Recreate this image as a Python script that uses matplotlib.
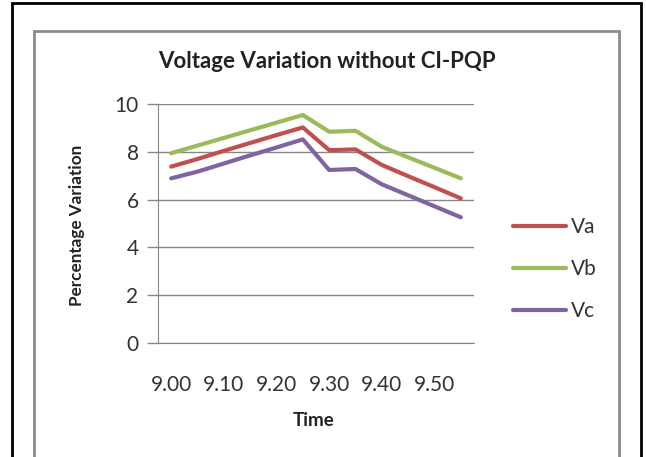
import matplotlib
matplotlib.use("Agg")
import matplotlib.pyplot as plt
from matplotlib.patches import Rectangle

times = ["9.00", "9.05", "9.10", "9.15", "9.20", "9.25", "9.30", "9.35", "9.40", "9.45", "9.50", "9.55"]
va = [7.38, 7.70, 8.04, 8.37, 8.70, 9.02, 8.07, 8.10, 7.45, 6.98, 6.52, 6.05]
vb = [7.94, 8.26, 8.58, 8.90, 9.22, 9.54, 8.84, 8.88, 8.21, 7.77, 7.33, 6.89]
vc = [6.89, 7.17, 7.51, 7.85, 8.18, 8.52, 7.24, 7.28, 6.64, 6.18, 5.72, 5.26]
series_names = ["Va", "Vb", "Vc"]
colors = ["#C0504D", "#9BBB59", "#8064A2"]
yticks = [0, 2, 4, 6, 8, 10]

plt.rcParams['font.family'] = ['Lato', 'DejaVu Sans']

W, H = 646, 457
fig = plt.figure(figsize=(W / 100, H / 100), dpi=100)

# borders
fig.patches.append(Rectangle((12 / W, -0.1), (641 - 12) / W, 1.1 - 3 / H, transform=fig.transFigure,
                             fill=False, edgecolor="black", linewidth=2))
fig.patches.append(Rectangle((34 / W, -0.1), (619 - 34) / W, 1.1 - 31 / H, transform=fig.transFigure,
                             fill=False, edgecolor="#8C8C8C", linewidth=2))

ax = fig.add_axes([158 / W, 1 - 343 / H, (474 - 158) / W, (343 - 104) / H])
x = list(range(len(times)))
for vals, name, c in zip([va, vb, vc], series_names, colors):
    ax.plot(x, vals, color=c, linewidth=3, label=name, solid_capstyle="round")

ax.set_xlim(-0.5, len(times) - 0.5)
ax.set_ylim(0, 10)
ax.set_yticks(yticks)
ax.set_yticklabels([str(v) for v in yticks], fontsize=15, color="#333333")
ax.set_xticks(x[::2])
ax.set_xticklabels(times[::2], fontsize=15, color="#333333")
ax.tick_params(axis="x", length=0, pad=23)
ax.tick_params(axis="y", length=8, width=1, color="#868686", pad=6)
ax.grid(axis="y", color="#868686", linewidth=1)
ax.set_axisbelow(True)
for s in ["top", "right"]:
    ax.spines[s].set_visible(False)
ax.spines["left"].set_color("#868686")
ax.spines["bottom"].set_color("#868686")

fig.text(327 / W, 1 - 62 / H, "Voltage Variation without CI-PQP", ha="center", va="center",
         fontsize=16, fontweight="bold", color="#222222")
fig.text(77 / W, 1 - 225 / H, "Percentage Variation", ha="center", va="center", rotation=90,
         fontsize=12.3, fontweight="bold", color="#222222")
fig.text(314 / W, 1 - 421 / H, "Time", ha="center", va="center",
         fontsize=13.5, fontweight="bold", color="#222222")

leg = ax.legend(loc="center left", bbox_to_anchor=(494 / W, 1 - 269 / H), bbox_transform=fig.transFigure,
                frameon=False, fontsize=15, handlelength=2.55, handletextpad=0.25, labelspacing=1.05)
for t in leg.get_texts():
    t.set_color("#333333")

fig.savefig("out.png", dpi=100)
